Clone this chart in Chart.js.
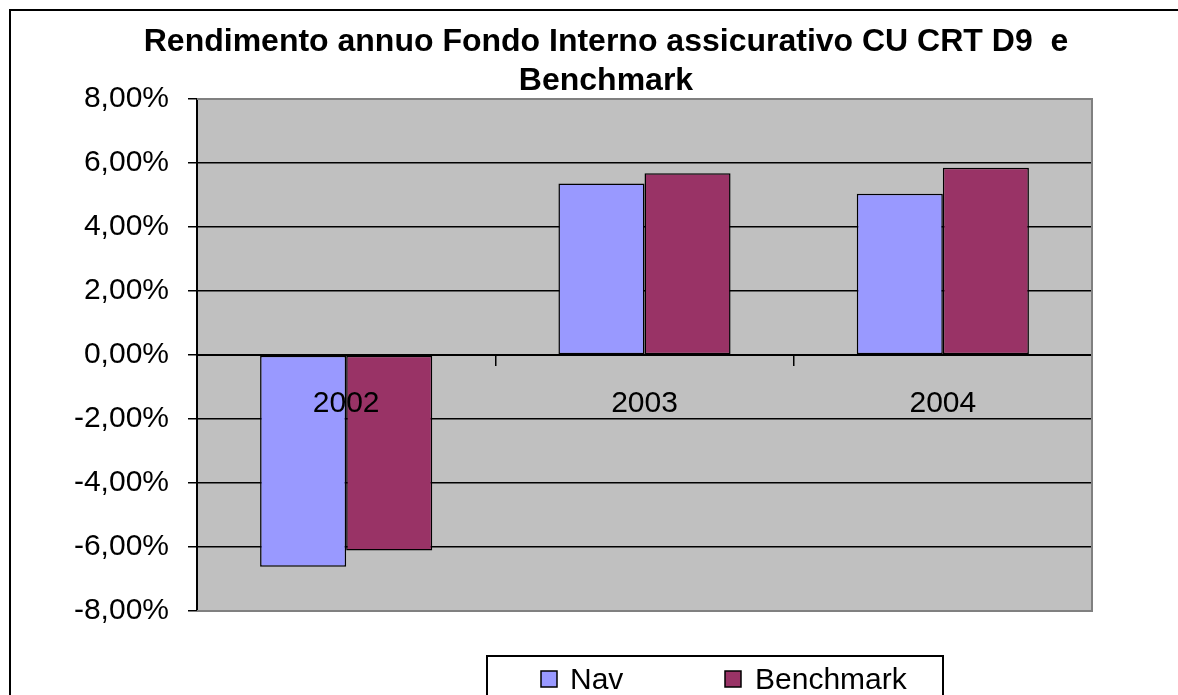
<!DOCTYPE html>
<html>
<head>
<meta charset="utf-8">
<script src="https://cdn.jsdelivr.net/npm/chart.js"></script>
<style>
  html, body { margin: 0; padding: 0; background: #fff; }
  #wrap { width: 1178px; height: 695px; position: relative; }
</style>
</head>
<body>
<div id="wrap"><canvas id="chart" width="1178" height="695"></canvas></div>
<script>
const categories = ['2002', '2003', '2004'];
const navValues = [-6.62, 5.36, 5.04];
const benchmarkValues = [-6.11, 5.68, 5.85];
const yMin = -8, yMax = 8, yStep = 2;
const titleLines = ['Rendimento annuo Fondo Interno assicurativo CU CRT D9  e', 'Benchmark'];

const FONT = "Arial, 'Liberation Sans', sans-serif";
const fmtPct = v => v.toFixed(2).replace('.', ',') + '%';

// plot background, grey plot border, outer frame, boxed legend
const excelLook = {
  id: 'excelLook',
  afterLayout(chart) {
    // title is centred a bit right of the canvas centre, as in the original
    if (chart.titleBlock) { chart.titleBlock.left = 34; chart.titleBlock.right = 1178; }
  },
  beforeDraw(chart) {
    const { ctx, chartArea: a } = chart;
    ctx.save();
    ctx.fillStyle = '#fff';
    ctx.fillRect(0, 0, chart.width, chart.height);
    ctx.strokeStyle = '#000';
    ctx.lineWidth = 2;
    ctx.beginPath();
    ctx.moveTo(1180, 10);
    ctx.lineTo(10, 10);
    ctx.lineTo(10, 700);
    ctx.stroke();
    ctx.fillStyle = '#c0c0c0';
    ctx.fillRect(a.left, a.top, a.right - a.left, a.bottom - a.top);
    ctx.restore();
  },
  afterDraw(chart) {
    const { ctx, chartArea: a } = chart;
    ctx.save();
    ctx.strokeStyle = '#808080';
    ctx.lineWidth = 2;
    ctx.beginPath();
    ctx.moveTo(a.left, a.top);
    ctx.lineTo(a.right, a.top);
    ctx.lineTo(a.right, a.bottom);
    ctx.lineTo(a.left, a.bottom);
    ctx.stroke();

    // legend
    ctx.strokeStyle = '#000';
    ctx.lineWidth = 2;
    ctx.strokeRect(487, 656, 456, 60);
    const items = [{ x: 541, tx: 570 }, { x: 725, tx: 755 }];
    ctx.font = '30px ' + FONT;
    ctx.textBaseline = 'middle';
    ctx.textAlign = 'left';
    chart.data.datasets.forEach((ds, i) => {
      const it = items[i];
      ctx.fillStyle = ds.backgroundColor;
      ctx.fillRect(it.x, 671, 16, 16);
      ctx.lineWidth = 1.5;
      ctx.strokeStyle = '#000';
      ctx.strokeRect(it.x, 671, 16, 16);
      ctx.fillStyle = '#000';
      ctx.fillText(ds.label, it.tx, 681);
    });
    ctx.restore();
  }
};

new Chart(document.getElementById('chart'), {
  type: 'bar',
  data: {
    labels: categories,
    datasets: [
      { label: 'Nav', data: navValues, backgroundColor: '#9999ff', borderColor: '#000', borderWidth: 1.5, borderSkipped: false },
      { label: 'Benchmark', data: benchmarkValues, backgroundColor: '#993366', borderColor: '#000', borderWidth: 1.5, borderSkipped: false }
    ]
  },
  options: {
    responsive: false,
    animation: false,
    devicePixelRatio: 1,
    layout: { padding: { left: 20, right: 86, top: 0, bottom: 84 } },
    datasets: { bar: { categoryPercentage: 0.577, barPercentage: 1 } },
    plugins: {
      legend: { display: false },
      tooltip: { enabled: false },
      title: {
        display: true,
        text: titleLines,
        color: '#000',
        font: { family: FONT, size: 32, weight: 'bold', lineHeight: 1.22 },
        padding: { top: 23, bottom: -2 }
      }
    },
    scales: {
      x: {
        position: { y: 0 },
        offset: true,
        grid: { offset: true, drawOnChartArea: false, drawTicks: true, tickLength: 10, color: '#000', lineWidth: 1.5 },
        border: { display: true, color: '#000', width: 2 },
        // labels sit on top of the bars, like in the original
        ticks: { z: 1, color: '#000', font: { family: FONT, size: 30 }, padding: 21, maxRotation: 0 }
      },
      y: {
        min: yMin,
        max: yMax,
        afterFit: s => { s.width = 177; },
        grid: {
          color: c => (c.tick && (c.tick.value === yMin || c.tick.value === yMax)) ? 'rgba(0,0,0,0)' : '#000',
          tickColor: '#000',
          lineWidth: 1.5,
          tickLength: 9
        },
        border: { display: true, color: '#000', width: 2 },
        ticks: {
          stepSize: yStep,
          color: '#000',
          font: { family: FONT, size: 30 },
          padding: 19,
          callback: v => fmtPct(v)
        }
      }
    }
  },
  plugins: [excelLook]
});
</script>
</body>
</html>
